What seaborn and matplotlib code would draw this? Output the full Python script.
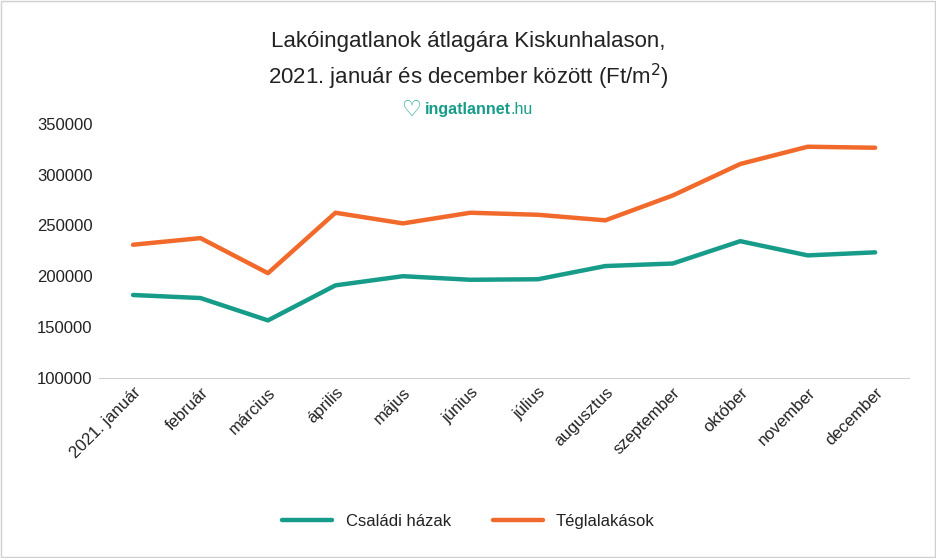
import numpy as np
import pandas as pd
import seaborn as sns
from matplotlib import pyplot as plt
from matplotlib.lines import Line2D

honapok = ["2021. január", "február", "március", "április", "május", "június",
           "július", "augusztus", "szeptember", "október", "november", "december"]
csaladi = [181500, 178500, 156500, 191000, 200000, 196500, 197000, 210000, 212500, 234500, 220500, 223500]
tegla = [231000, 237500, 203000, 262500, 252000, 262500, 260500, 255000, 279500, 310500, 327500, 326500]

df = pd.DataFrame({"hónap": honapok * 2,
                   "ár": csaladi + tegla,
                   "típus": ["Családi házak"] * 12 + ["Téglalakások"] * 12})
df["x"] = list(range(12)) * 2

sns.set_style("white")
plt.rcParams["font.family"] = ["Liberation Sans", "DejaVu Sans"]
plt.rcParams["text.color"] = "#222222"

fig = plt.figure(figsize=(9.37, 5.58), dpi=100)
ax = fig.add_axes([0.106, 0.323, 0.864, 0.455])
sns.lineplot(data=df, x="x", y="ár", hue="típus",
             palette=["#179c8a", "#f26a2b"], linewidth=3.2, ax=ax, legend=False)

ax.set_xlim(-0.5, 11.5)
ax.set_ylim(100000, 350000)
ax.set_yticks(np.arange(100000, 350001, 50000))
ax.set_yticklabels([str(v) for v in range(100000, 350001, 50000)], fontsize=12, color="#222222")
ax.set_xticks(range(12))
ax.set_xticklabels(honapok, rotation=45, ha="right", rotation_mode="anchor", fontsize=12, color="#222222")
ax.tick_params(axis="both", length=0, pad=5)
for s in ["top", "right", "left"]:
    ax.spines[s].set_visible(False)
ax.spines["bottom"].set_color("#d0d0d0")
ax.set_xlabel("")
ax.set_ylabel("")

fig.text(0.5, 0.925, "Lakóingatlanok átlagára Kiskunhalason,", ha="center", va="center", fontsize=16)
fig.text(0.5, 0.862, "2021. január és december között (Ft/m$^2$)", ha="center", va="center", fontsize=16)
fig.text(0.453, 0.803, "ingatlannet", ha="left", va="center", fontsize=11.5, color="#179c8a", fontweight="bold")
fig.text(0.5445, 0.803, ".hu", ha="left", va="center", fontsize=11.5, color="#179c8a")
fig.text(0.44, 0.803, "♡", ha="center", va="center", fontsize=16, color="#179c8a", family="DejaVu Sans")

handles = [Line2D([], [], color="#179c8a", lw=3.2), Line2D([], [], color="#f26a2b", lw=3.2)]
fig.legend(handles, ["Családi házak", "Téglalakások"], loc="center", bbox_to_anchor=(0.5, 0.066),
           ncol=2, frameon=False, fontsize=12, handlelength=3, columnspacing=2.5)

fig.patches.append(plt.Rectangle((0.001, 0.002), 0.997, 0.996, transform=fig.transFigure,
                                 fill=False, edgecolor="#d0d0d0", lw=1))
fig.savefig("out.png", dpi=100)
